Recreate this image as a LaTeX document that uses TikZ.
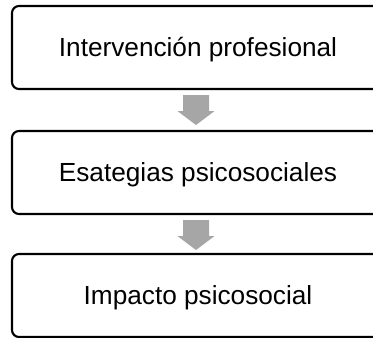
\documentclass[tikz,border=0pt]{standalone}
\usepackage{fontspec}
\setmainfont{Liberation Sans}
\usetikzlibrary{calc}
\definecolor{arrowgrey}{HTML}{A6A6A6}
\tikzset{
  stagebox/.style={draw=black, line width=2.1pt, rounded corners=7pt,
    minimum width=372pt, minimum height=83pt, inner sep=0pt,
    text height=18.6pt, text depth=0pt,
    font=\fontsize{26.2pt}{31pt}\selectfont},
  downarrow/.style={fill=arrowgrey, draw=none}
}
\begin{document}
\begin{tikzpicture}[x=1pt,y=-1pt]
\useasboundingbox (0,0) rectangle (373,338);
\node[stagebox] (b1) at (198,47.5) {Intervención profesional};
\node[stagebox] (b2) at (198,172.5) {Esategias psicosociales};
\node[stagebox] (b3) at (198,295.5) {Impacto psicosocial};
\fill[downarrow] ($(b1.south)+(-2,0)$) ++(-13,5) -- ++(26,0) -- ++(0,16) -- ++(5.5,0)
  -- ++(-18.5,14) -- ++(-18.5,-14) -- ++(5.5,0) -- cycle;
\fill[downarrow] ($(b2.south)+(-2,0)$) ++(-13,5) -- ++(26,0) -- ++(0,16) -- ++(5.5,0)
  -- ++(-18.5,14) -- ++(-18.5,-14) -- ++(5.5,0) -- cycle;
\end{tikzpicture}
\end{document}
